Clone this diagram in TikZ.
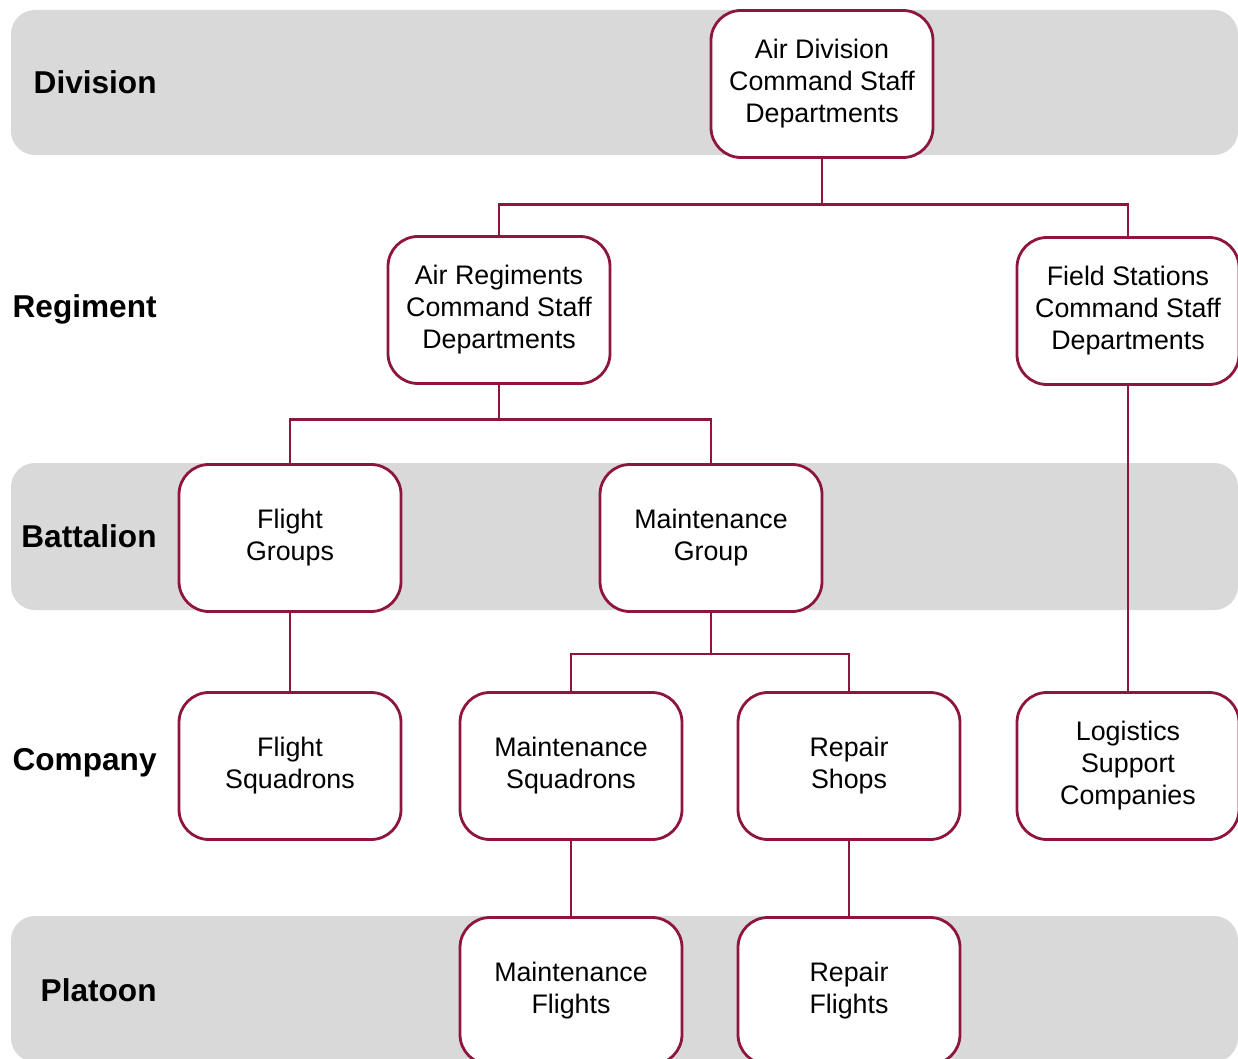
\documentclass[tikz,border=0pt]{standalone}
\usepackage{fontspec}
\setmainfont{Liberation Sans}
\begin{document}
\definecolor{linkred}{RGB}{142,22,62}
\definecolor{bandgray}{RGB}{217,217,217}
\begin{tikzpicture}[x=0.5pt,y=-0.5pt,
  unit/.style={draw=linkred,line width=1.4pt,fill=white,rounded corners=15pt,
    minimum width=111pt,minimum height=73.5pt,align=center,inner sep=2pt,
    font=\fontsize{13.4}{16}\selectfont},
  level/.style={anchor=east,inner sep=0pt,font=\bfseries\fontsize{15.8}{18}\selectfont},
  band/.style={fill=bandgray,rounded corners=12pt},
  link/.style={draw=linkred,line width=1.4pt}]
\useasboundingbox (0,0) rectangle (1238,1059);
\fill[white] (0,0) rectangle (1238,1059);
% level bands
\fill[band] (11,10) rectangle (1238,155);
\fill[band] (11,463) rectangle (1238,610);
\fill[band] (11,916) rectangle (1238,1062);
% level labels
\node[level] (lDiv) at (157,82) {Division};
\node[level] (lReg) at (157,309) {Regiment};
\node[level] (lBat) at (157,536) {Battalion};
\node[level] (lCom) at (157,763) {Company};
\node[level] (lPla) at (157,990) {Platoon};
% units
\node[unit] (div) at (822,84) {Air Division\\Command Staff\\Departments};
\node[unit] (reg) at (499,310) {Air Regiments\\Command Staff\\Departments};
\node[unit] (fst) at (1128,311) {Field Stations\\Command Staff\\Departments};
\node[unit] (fgr) at (290,538) {Flight\\Groups};
\node[unit] (mgr) at (711,538) {Maintenance\\Group};
\node[unit] (fsq) at (290,766) {Flight\\Squadrons};
\node[unit] (msq) at (571,766) {Maintenance\\Squadrons};
\node[unit] (rsh) at (849,766) {Repair\\Shops};
\node[unit] (log) at (1128,766) {Logistics\\Support\\Companies};
\node[unit] (mfl) at (571,991) {Maintenance\\Flights};
\node[unit] (rfl) at (849,991) {Repair\\Flights};
% connectors
\draw[link] (div.south) -- ++(0,46) -| (reg.north);
\draw[link] (div.south) ++(0,46) -| (fst.north);
\draw[link] (reg.south) -- ++(0,35) -| (fgr.north);
\draw[link] (reg.south) ++(0,35) -| (mgr.north);
\draw[link] (mgr.south) -- ++(0,41) -| (msq.north);
\draw[link] (mgr.south) ++(0,41) -| (rsh.north);
\draw[link] (fgr.south) -- (fsq.north);
\draw[link] (fst.south) -- (log.north);
\draw[link] (msq.south) -- (mfl.north);
\draw[link] (rsh.south) -- (rfl.north);
\end{tikzpicture}
\end{document}
